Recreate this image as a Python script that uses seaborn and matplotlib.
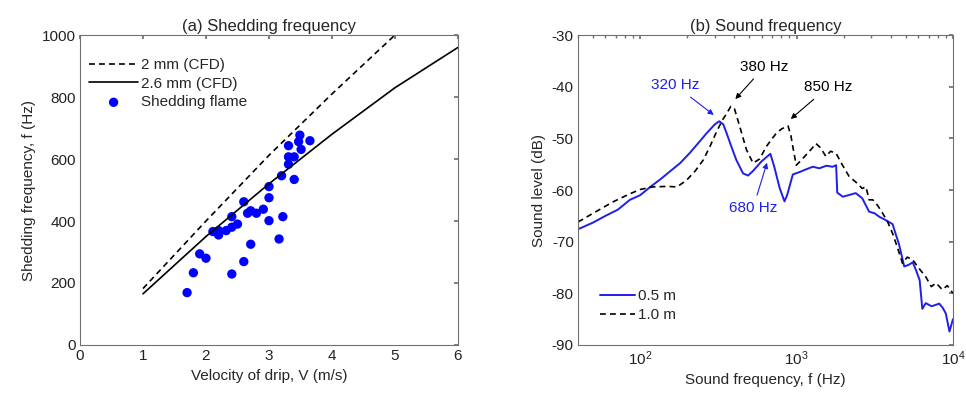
import numpy as np
import pandas as pd
import matplotlib
matplotlib.use('Agg')
import matplotlib.pyplot as plt
import seaborn as sns

# ==================== data ====================
# (a) shedding frequency vs drip velocity
cfd_v = [1, 2, 3, 4, 5, 6]
cfd_2mm_f = [182, 400, 612, 810, 1000, np.nan]
cfd_26mm_f = [165, 350, 520, 680, 830, 960]

flame_v = [3.49, 3.65, 3.31, 3.47, 3.51, 3.31, 3.40, 3.31, 3.20, 3.40,
           3.00, 3.00, 2.60, 2.66, 2.71, 2.80, 2.91, 3.22, 3.00, 2.41,
           2.50, 2.41, 2.32, 2.11, 2.20, 2.20, 3.16, 2.71, 1.90, 2.00,
           2.60, 1.80, 2.41, 1.70]
flame_f = [677, 659, 643, 656, 631, 607, 607, 583, 546, 534,
           511, 475, 462, 425, 433, 425, 438, 414, 401, 414,
           390, 380, 369, 366, 369, 355, 342, 325, 294, 280,
           269, 233, 229, 169]

# (b) sound spectrum
f_05 = [40, 50, 60, 72, 86, 100, 116, 135, 155, 180, 208, 240, 266, 300, 320,
        340, 357, 385, 412, 455, 490, 527, 595, 650, 680, 720, 779, 837, 870,
        946, 1050, 1150, 1270, 1400, 1550, 1700, 1790, 1820, 1973, 2150, 2390,
        2630, 2910, 3150, 3390, 3700, 4110, 4300, 4520, 4880, 5200, 5530, 5800,
        6120, 6370, 6700, 7300, 8180, 8600, 9000, 9500, 10000]
db_05 = [-67.6, -66.3, -65.0, -63.8, -61.9, -61.0, -59.4, -57.9, -56.4, -54.8,
         -52.8, -50.6, -49.0, -47.3, -46.7, -47.3, -49.0, -51.8, -54.2, -56.8,
         -57.2, -56.3, -54.5, -53.5, -53.0, -55.5, -59.6, -62.2, -61.0, -57.0,
         -56.5, -56.0, -55.5, -55.8, -55.3, -55.5, -55.2, -60.5, -61.3, -61.0,
         -60.6, -61.6, -64.2, -64.5, -65.2, -65.8, -66.6, -68.5, -70.5, -74.8,
         -74.5, -74.0, -75.5, -77.4, -83.0, -81.9, -82.5, -82.0, -82.8, -83.9,
         -87.4, -85.0]

f_10 = [40, 50, 67, 85, 100, 120, 150, 172, 198, 225, 253, 280, 308, 335, 357,
        380, 400, 433, 478, 527, 580, 640, 700, 743, 800, 850, 882, 920, 946,
        995, 1050, 1150, 1250, 1330, 1420, 1540, 1650, 1790, 1950, 2170, 2400,
        2630, 2780, 2910, 3070, 3300, 3550, 3800, 4110, 4400, 4760, 5100, 5530,
        6000, 6700, 7270, 7800, 8550, 9200, 10000]
db_10 = [-66.2, -64.5, -62.3, -60.8, -59.9, -59.4, -59.3, -59.4, -58.1, -56.3,
         -54.2, -51.5, -48.7, -46.5, -45.2, -43.8, -44.2, -47.7, -52.2, -54.8,
         -54.0, -51.6, -50.0, -49.0, -48.2, -47.8, -47.6, -49.5, -51.6, -55.2,
         -54.5, -53.2, -52.0, -51.0, -51.8, -53.5, -52.5, -52.9, -55.0, -57.4,
         -58.5, -59.7, -59.4, -61.9, -61.9, -63.0, -64.5, -66.0, -68.4, -71.0,
         -74.2, -73.0, -73.5, -75.0, -76.8, -78.7, -78.0, -79.3, -78.5, -80.0]

# ==================== style ====================
sns.set_theme(style='white')
plt.rcParams['font.family'] = ['Liberation Sans', 'DejaVu Sans']
plt.rcParams['font.size'] = 11
plt.rcParams['axes.unicode_minus'] = False
plt.rcParams['axes.edgecolor'] = '#707070'
plt.rcParams['xtick.color'] = '#707070'
plt.rcParams['ytick.color'] = '#707070'
plt.rcParams['xtick.labelcolor'] = '#222222'
plt.rcParams['ytick.labelcolor'] = '#222222'

BLUE = '#1f1fe8'
DASH = (0, (3.5, 2.5))

fig = plt.figure(figsize=(9.66, 3.98), dpi=100)
ax1 = fig.add_axes([0.0828, 0.1332, 0.3913, 0.7788])
ax2 = fig.add_axes([0.5983, 0.1332, 0.3882, 0.7788])

# ==================== (a) ====================
sns.lineplot(x=cfd_v, y=cfd_2mm_f, ax=ax1, color='black', linestyle=DASH,
             linewidth=1.2, label='2 mm (CFD)')
sns.lineplot(x=cfd_v, y=cfd_26mm_f, ax=ax1, color='black', linewidth=1.2,
             label='2.6 mm (CFD)')
sns.scatterplot(x=flame_v, y=flame_f, ax=ax1, color='blue', s=45,
                edgecolor='none', label='Shedding flame')

ax1.set_xlim(0, 6)
ax1.set_ylim(0, 1000)
ax1.set_xticks(range(0, 7))
ax1.set_yticks(range(0, 1001, 200))
ax1.set_xlabel('Velocity of drip, V (m/s)', fontsize=11)
ax1.set_ylabel('Shedding frequency, f (Hz)', fontsize=11)
ax1.set_title('(a) Shedding frequency', fontsize=12, pad=3)
ax1.legend(loc='upper left', frameon=False, fontsize=11, handlelength=3.2,
           handletextpad=0.2, labelspacing=0.3, borderaxespad=0.2,
           bbox_to_anchor=(0.0, 0.955))

# ==================== (b) ====================
ax2.set_xscale('log')
sns.lineplot(x=f_05, y=db_05, ax=ax2, color=BLUE, linewidth=1.4, label='0.5 m')
sns.lineplot(x=f_10, y=db_10, ax=ax2, color='black', linestyle=DASH,
             linewidth=1.2, label='1.0 m')

ax2.set_xlim(40, 10000)
ax2.set_ylim(-90, -30)
ax2.set_yticks(range(-90, -29, 10))
ax2.set_xlabel('Sound frequency, f (Hz)', fontsize=11)
ax2.set_ylabel('Sound level (dB)', fontsize=11)
ax2.set_title('(b) Sound frequency', fontsize=12, pad=3)
ax2.legend(loc='lower left', frameon=False, fontsize=11, handlelength=2.3,
           handletextpad=0.2, labelspacing=0.3, borderaxespad=0.2,
           bbox_to_anchor=(0.035, 0.045))

arrow_k = dict(arrowstyle='-|>', color='black', lw=0.8, mutation_scale=8)
arrow_b = dict(arrowstyle='-|>', color=BLUE, lw=0.8, mutation_scale=8)
ax2.annotate('320 Hz', xy=(305, -45.8), xytext=(167, -39.7), color=BLUE,
             ha='center', va='center', fontsize=11, arrowprops=arrow_b)
ax2.annotate('380 Hz', xy=(395, -42.8), xytext=(625, -36.1), color='black',
             ha='center', va='center', fontsize=11, arrowprops=arrow_k)
ax2.annotate('850 Hz', xy=(890, -46.6), xytext=(1585, -40.1), color='black',
             ha='center', va='center', fontsize=11, arrowprops=arrow_k)
ax2.annotate('680 Hz', xy=(655, -54.2), xytext=(527, -63.5), color=BLUE,
             ha='center', va='center', fontsize=11, arrowprops=arrow_b)

for ax in (ax1, ax2):
    ax.tick_params(direction='in', top=True, right=True, length=3,
                   labelsize=11, pad=3)
    ax.tick_params(which='minor', direction='in', top=True, right=True,
                   length=2)
    for sp in ax.spines.values():
        sp.set_linewidth(0.8)

plt.savefig('out.png', dpi=100)
